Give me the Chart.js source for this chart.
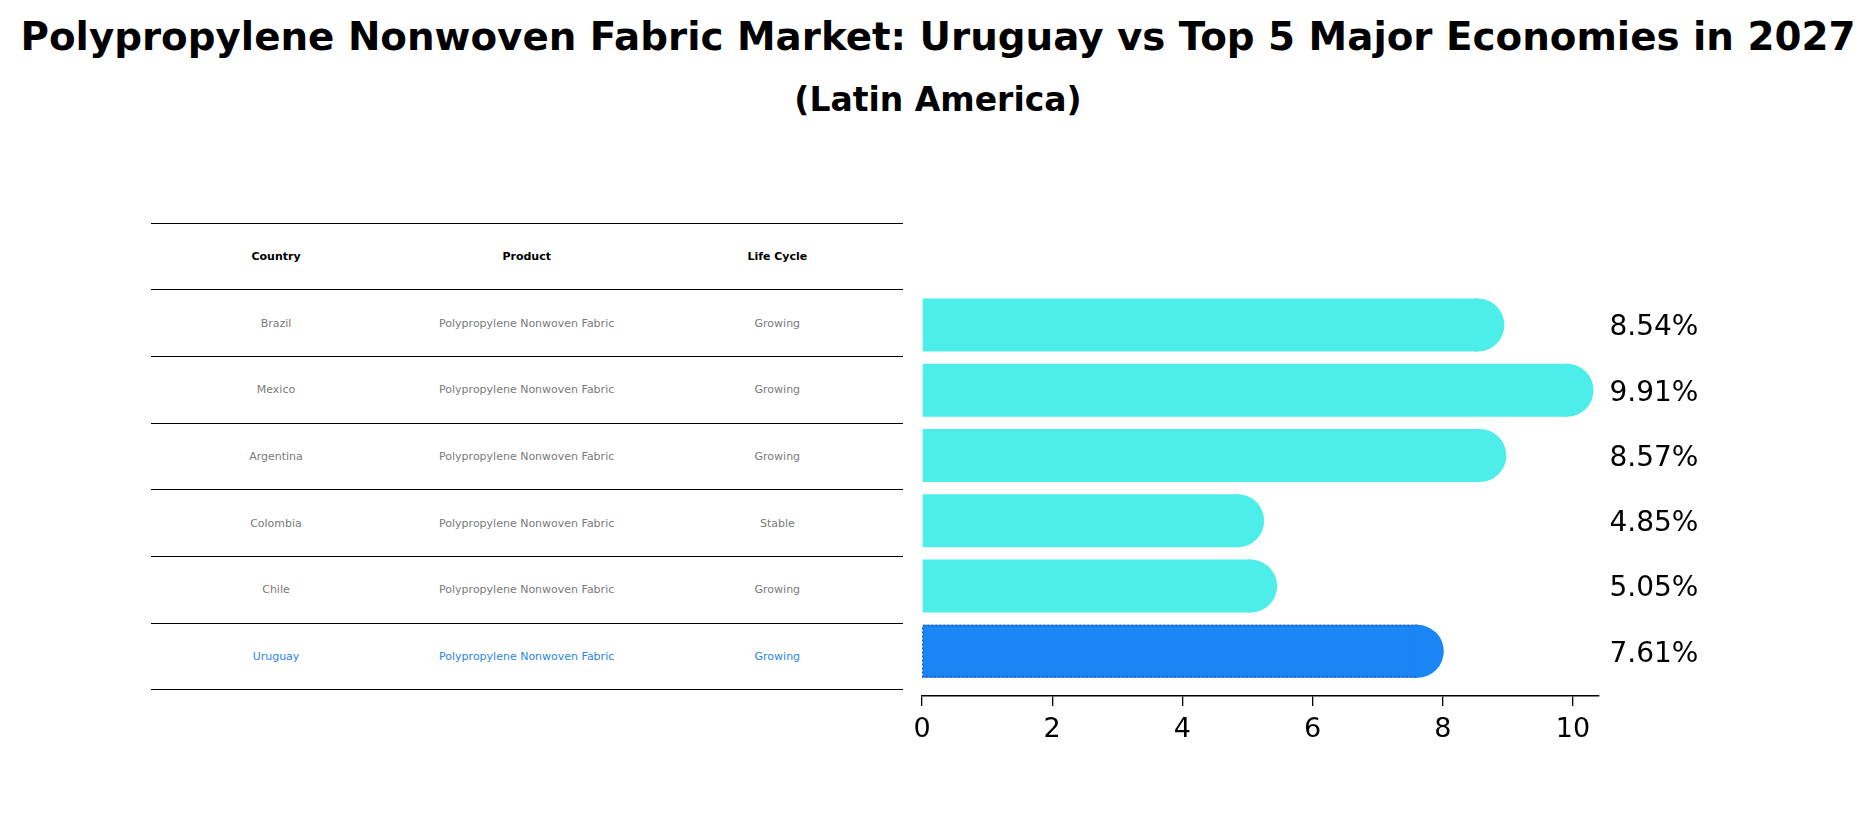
<!DOCTYPE html>
<html>
<head>
<meta charset="utf-8">
<script src="https://cdn.jsdelivr.net/npm/chart.js@4.4.1/dist/chart.umd.min.js"></script>
<style>
  html, body { margin: 0; padding: 0; background: #ffffff; }
  body { width: 1876px; height: 823px; position: relative; overflow: hidden; font-family: "DejaVu Sans", sans-serif; }
  .title { position: absolute; left: 0; width: 1876px; text-align: center; font-weight: bold; color: #000; line-height: 1; white-space: nowrap; }
  #chartWrap { position: absolute; left: 0; top: 0; width: 1876px; height: 823px; }
  .tline { position: absolute; left: 151px; width: 752px; height: 0; border-top: 1.3px solid #000; }
  .tcell { position: absolute; width: 250px; height: 66.67px; display: flex; align-items: center; justify-content: center; font-size: 11px; white-space: nowrap; }
</style>
</head>
<body>
<div class="title" id="t1" style="top:18px;font-size:38.8px;"></div>
<div class="title" id="t2" style="top:83px;font-size:33px;"></div>
<div id="table"></div>
<div id="chartWrap"><canvas id="c" width="1876" height="823"></canvas></div>
<script>
const titleText = "Polypropylene Nonwoven Fabric Market: Uruguay vs Top 5 Major Economies in 2027";
const subtitleText = "(Latin America)";
const headers = ["Country", "Product", "Life Cycle"];
const countries = ["Brazil", "Mexico", "Argentina", "Colombia", "Chile", "Uruguay"];
const products = ["Polypropylene Nonwoven Fabric", "Polypropylene Nonwoven Fabric", "Polypropylene Nonwoven Fabric", "Polypropylene Nonwoven Fabric", "Polypropylene Nonwoven Fabric", "Polypropylene Nonwoven Fabric"];
const lifeCycles = ["Growing", "Growing", "Growing", "Stable", "Growing", "Growing"];
const growth = [8.54, 9.91, 8.57, 4.85, 5.05, 7.61];
const xTicks = [0, 2, 4, 6, 8, 10];

const CYAN = "#4deeea";
const BLUE = "#1a85f5";
const BLUE_EDGE = "#2a66cc";
const HIGHLIGHT = "Uruguay";

document.getElementById("t1").textContent = titleText;
document.getElementById("t2").textContent = subtitleText;

// ---- table ----
const table = document.getElementById("table");
const tTop = 223.3, rowH = 66.67, tLeft = 151, colW = 752 / 3;
for (let k = 0; k <= countries.length + 1; k++) {
  const l = document.createElement("div");
  l.className = "tline";
  l.style.top = (tTop + k * rowH - 0.65) + "px";
  table.appendChild(l);
}
function cell(text, row, col, style) {
  const d = document.createElement("div");
  d.className = "tcell";
  d.textContent = text;
  d.style.left = (tLeft + col * colW) + "px";
  d.style.top = (tTop + row * rowH) + "px";
  Object.assign(d.style, style);
  table.appendChild(d);
}
headers.forEach((h, j) => cell(h, 0, j, { fontWeight: "bold", color: "#000" }));
countries.forEach((c, i) => {
  const col = c === HIGHLIGHT ? "#2a86e6" : "#7a7a7a";
  [c, products[i], lifeCycles[i]].forEach((t, j) => cell(t, i + 1, j, { color: col }));
});

// ---- chart ----
const colors = countries.map(c => c === HIGHLIGHT ? BLUE : CYAN);

const capsAndLabels = {
  id: "capsAndLabels",
  afterDatasetsDraw(chart) {
    const ctx = chart.ctx;
    const meta = chart.getDatasetMeta(0);
    const xs = chart.scales.x;
    meta.data.forEach((bar, i) => {
      const h = bar.height;
      const r = h / 2;
      const x0 = xs.getPixelForValue(0);
      const top = bar.y - r, bot = bar.y + r;
      ctx.save();
      ctx.fillStyle = colors[i];
      ctx.beginPath();
      ctx.moveTo(bar.x - 3, top);
      ctx.lineTo(bar.x, top);
      ctx.arc(bar.x, bar.y, r, -Math.PI / 2, Math.PI / 2);
      ctx.lineTo(bar.x - 3, bot);
      ctx.closePath();
      ctx.fill();
      if (countries[i] === HIGHLIGHT) {
        ctx.strokeStyle = BLUE_EDGE;
        ctx.lineWidth = 2;
        ctx.setLineDash([2, 2]);
        ctx.beginPath();
        ctx.moveTo(bar.x, top + 1);
        ctx.lineTo(x0 + 1, top + 1);
        ctx.lineTo(x0 + 1, bot - 1);
        ctx.lineTo(bar.x, bot - 1);
        ctx.stroke();
      }
      ctx.restore();
      ctx.save();
      ctx.fillStyle = "#000";
      ctx.font = "28px 'DejaVu Sans'";
      ctx.textBaseline = "middle";
      ctx.textAlign = "left";
      ctx.fillText(growth[i].toFixed(2) + "%", xs.getPixelForValue(10.56), bar.y + 3);
      ctx.restore();
    });
  }
};

new Chart(document.getElementById("c"), {
  type: "bar",
  data: {
    datasets: [{
      data: growth.map((v, i) => ({ x: v, y: i })),
      backgroundColor: colors,
      borderWidth: 0,
      barPercentage: 0.9,
      categoryPercentage: 0.9
    }]
  },
  options: {
    indexAxis: "y",
    responsive: false,
    animation: false,
    devicePixelRatio: 1,
    layout: { padding: { left: 922, right: 277, top: 292.4, bottom: 0 } },
    plugins: { legend: { display: false }, tooltip: { enabled: false }, title: { display: false } },
    scales: {
      y: {
        type: "linear",
        display: false,
        reverse: true,
        offset: false,
        min: -0.5,
        max: 5.685,
        afterBuildTicks(scale) { scale.ticks = countries.map((c, i) => ({ value: i })); }
      },
      x: {
        type: "linear",
        min: 0,
        max: 10.4,
        afterBuildTicks(scale) { scale.ticks = xTicks.map(v => ({ value: v })); },
        afterFit(scale) { scale.height = 823 - 696; },
        grid: { drawOnChartArea: false, drawTicks: true, tickLength: 10, color: "#000", lineWidth: 1.3 },
        border: { display: true, color: "#000", width: 1.6 },
        ticks: { color: "#000", font: { family: "DejaVu Sans", size: 27 }, padding: 8, maxRotation: 0 }
      }
    }
  },
  plugins: [capsAndLabels]
});
</script>
</body>
</html>
